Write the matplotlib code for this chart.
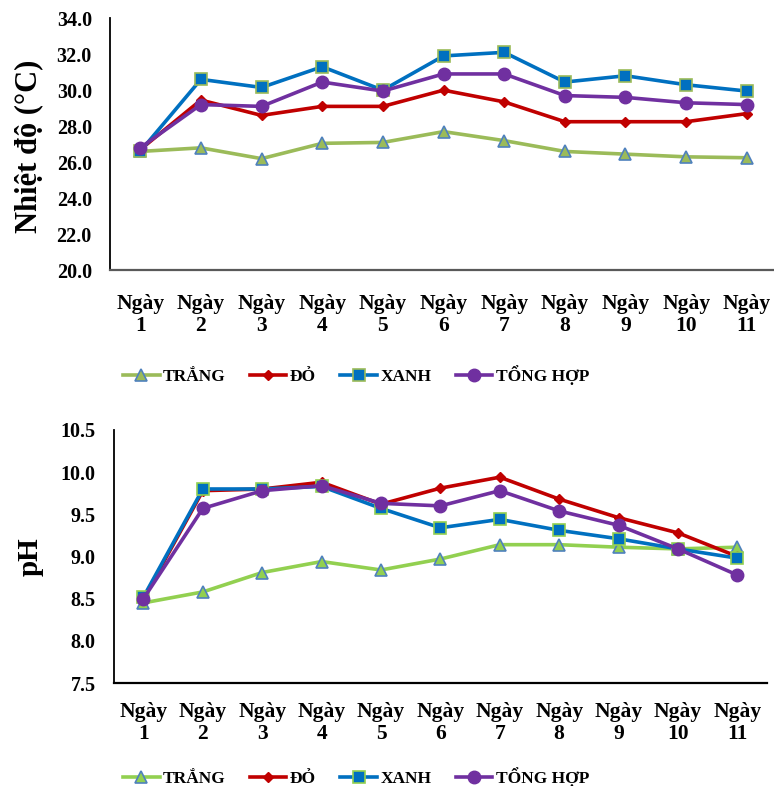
import numpy as np
import matplotlib
matplotlib.use("Agg")
import matplotlib.pyplot as plt
from matplotlib.lines import Line2D

plt.rcParams["font.family"] = ["Liberation Serif", "DejaVu Serif"]
plt.rcParams["font.weight"] = "bold"

days = [f"Ngày\n{i}" for i in range(1, 12)]
series = ["TRẮNG", "ĐỎ", "XANH", "TỔNG HỢP"]

# nhiệt độ (°C)
temp_trang = [26.6, 26.8, 26.2, 27.05, 27.1, 27.7, 27.2, 26.6, 26.45, 26.3, 26.25]
temp_do = [26.7, 29.45, 28.6, 29.1, 29.1, 30.0, 29.35, 28.25, 28.25, 28.25, 28.7]
temp_xanh = [26.6, 30.6, 30.15, 31.3, 30.0, 31.9, 32.1, 30.45, 30.8, 30.3, 29.95]
temp_tong = [26.8, 29.2, 29.1, 30.45, 29.95, 30.9, 30.9, 29.7, 29.6, 29.3, 29.2]

# pH
ph_trang = [8.45, 8.58, 8.81, 8.94, 8.84, 8.97, 9.14, 9.14, 9.11, 9.09, 9.11]
ph_do = [8.5, 9.78, 9.80, 9.88, 9.62, 9.81, 9.94, 9.68, 9.46, 9.28, 9.0]
ph_xanh = [8.52, 9.80, 9.80, 9.83, 9.57, 9.34, 9.44, 9.31, 9.21, 9.09, 8.98]
ph_tong = [8.5, 9.57, 9.78, 9.84, 9.63, 9.6, 9.78, 9.54, 9.37, 9.09, 8.78]

RED, BLUE, PURPLE = "#C00000", "#0070C0", "#7030A0"
EDGE_BLUE = "#4F81BD"


def styles(green):
    return [
        dict(color=green, marker="^", ms=8.5, mfc=green, mec=EDGE_BLUE, mew=1.2),
        dict(color=RED, marker="D", ms=5, mfc=RED, mec=RED),
        dict(color=BLUE, marker="s", ms=8.5, mfc=BLUE, mec=green, mew=1.2),
        dict(color=PURPLE, marker="o", ms=9, mfc=PURPLE, mec=PURPLE),
    ]


def draw(ax, data, green, ylim, step, ylabel, ylsize, bottom_col, xpad):
    x = np.arange(1, 12)
    for vals, st in zip(data, styles(green)):
        ax.plot(x, vals, lw=2.6, **st)
    ax.set_xlim(0.5, 11.5)
    ax.set_ylim(*ylim)
    ax.set_yticks(np.arange(ylim[0], ylim[1] + step / 2, step))
    ax.yaxis.set_major_formatter(matplotlib.ticker.FormatStrFormatter("%.1f"))
    ax.set_xticks(x)
    ax.set_xticklabels(days, fontsize=15.5, linespacing=1.12)
    ax.tick_params(axis="y", length=0, pad=13, labelsize=14.5)
    ax.tick_params(axis="x", length=0, pad=xpad)
    for s in ["top", "right"]:
        ax.spines[s].set_visible(False)
    ax.spines["left"].set_linewidth(1.3)
    ax.spines["bottom"].set_linewidth(1.6)
    ax.spines["bottom"].set_color(bottom_col)
    ax.set_ylabel(ylabel, fontsize=ylsize, fontweight="bold")


fig = plt.figure(figsize=(7.74, 7.86), dpi=100)
ax1 = fig.add_axes([0.142, 0.656, 0.862, 0.321])
ax2 = fig.add_axes([0.147, 0.131, 0.844, 0.322])

draw(ax1, [temp_trang, temp_do, temp_xanh, temp_tong], "#9BBB59", (20, 34), 2,
     "Nhiệt độ (°C)", 22, "#595959", 17)
draw(ax2, [ph_trang, ph_do, ph_xanh, ph_tong], "#92D050", (7.5, 10.5), 0.5,
     "pH", 21, "black", 14)
ax1.yaxis.set_label_coords(-0.1, 0.49)
ax2.yaxis.set_label_coords(-0.107, 0.5)

for ax, green, ypos in [(ax1, "#9BBB59", 1 - 375 / 786), (ax2, "#92D050", 1 - 777 / 786)]:
    handles = [Line2D([], [], lw=2.6, **st) for st in styles(green)]
    fig.legend(handles, series, loc="center left", bbox_to_anchor=(0.150, ypos),
               ncol=4, frameon=False, fontsize=12.5, handlelength=2.1,
               handletextpad=0.2, columnspacing=1.4, borderaxespad=0)

fig.savefig("out.png", dpi=100)
